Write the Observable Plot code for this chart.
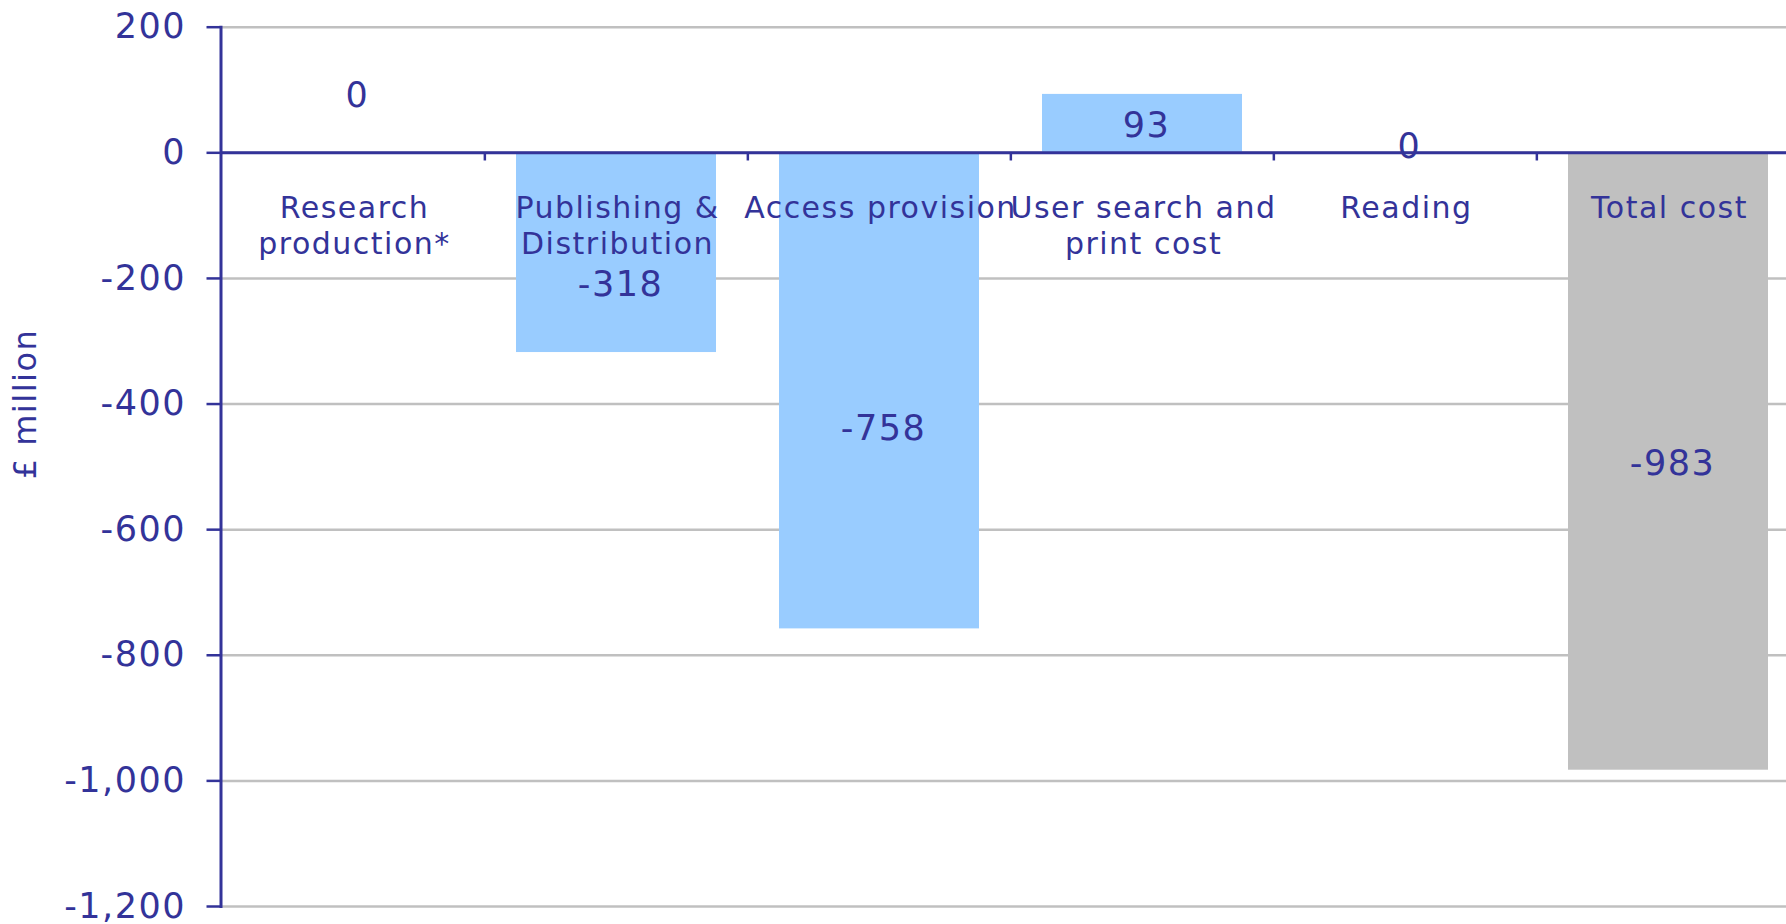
<!DOCTYPE html>
<html>
<head>
<meta charset="utf-8">
<script src="https://cdn.jsdelivr.net/npm/d3@7"></script>
<script src="https://cdn.jsdelivr.net/npm/@observablehq/plot@0.6"></script>
<style>
  html, body { margin: 0; padding: 0; background: #fff; overflow: hidden; }
</style>
</head>
<body>
<div id="chart"></div>
<script>
// ---- data ----
const categories = ["Research\nproduction*", "Publishing &\nDistribution", "Access provision", "User search and\nprint cost", "Reading", "Total cost"];
const values = [0, -318, -758, 93, 0, -983];
const valueLabels = ["0", "-318", "-758", "93", "0", "-983"];
const isTotal = [false, false, false, false, false, true];
const yTicks = [200, 0, -200, -400, -600, -800, -1000, -1200];
const yLabel = "£ million";

const data = categories.map((c, i) => ({cat: c, value: values[i], label: valueLabels[i], total: isTotal[i]}));

// ---- presentation ----
const ink = "#333399";
const W = 1786, H = 924;
const step = 263.3;
// label nudges (value units) relative to bar midpoint, to mimic original placement
const labelNudge = [90, -51.5, -60, -3, 9, -4];
const fmt = d => d3.format(",")(d).replace("\u2212", "-");

const chart = Plot.plot({
  width: W,
  height: H,
  marginLeft: 220.5,
  marginRight: 0,
  marginTop: 26.7,
  marginBottom: 18,
  style: {fontFamily: "'DejaVu Sans', Verdana, sans-serif", color: ink, background: "#fff", letterSpacing: "1.5px"},
  x: {domain: categories, range: [220.5, 220.5 + 6 * step], paddingInner: 0.239, paddingOuter: 0.1195, axis: null},
  y: {domain: [-1200, 200], axis: null},
  marks: [
    Plot.gridY(yTicks, {stroke: "#c0c0c0", strokeOpacity: 1, strokeWidth: 2.5}),
    Plot.barY(data, {x: "cat", y: "value", fill: d => d.total ? "#c0c0c0" : "#99ccff"}),
    Plot.ruleY([0], {stroke: ink, strokeWidth: 3}),
    Plot.ruleX(categories.slice(1), {x: d => d, y1: 0, y2: -13, dx: -step / 2, stroke: ink, strokeWidth: 2.5}),
    Plot.axisY(yTicks, {label: null, tickSize: 14, tickPadding: 21, tickFormat: fmt, fontSize: 35, stroke: ink, strokeWidth: 2.5, fill: ink}),
    Plot.frame({anchor: "left", stroke: ink, strokeWidth: 3}),
    Plot.text(data, {x: "cat", y: 0, text: "cat", fill: ink, fontSize: 30, lineAnchor: "top", lineHeight: 1.2, dy: 40, dx: 1, textAnchor: "middle"}),
    Plot.text(data, {x: "cat", y: (d, i) => d.value / 2 + labelNudge[i], text: "label", fill: ink, fontSize: 35, lineAnchor: "middle", textAnchor: "middle", dx: 4}),
    Plot.text([yLabel], {y: -400, frameAnchor: "left", dx: -195, rotate: -90, text: d => d, fill: ink, fontSize: 32, textAnchor: "middle", lineAnchor: "middle"})
  ]
});
document.getElementById("chart").appendChild(chart);
</script>
</body>
</html>
